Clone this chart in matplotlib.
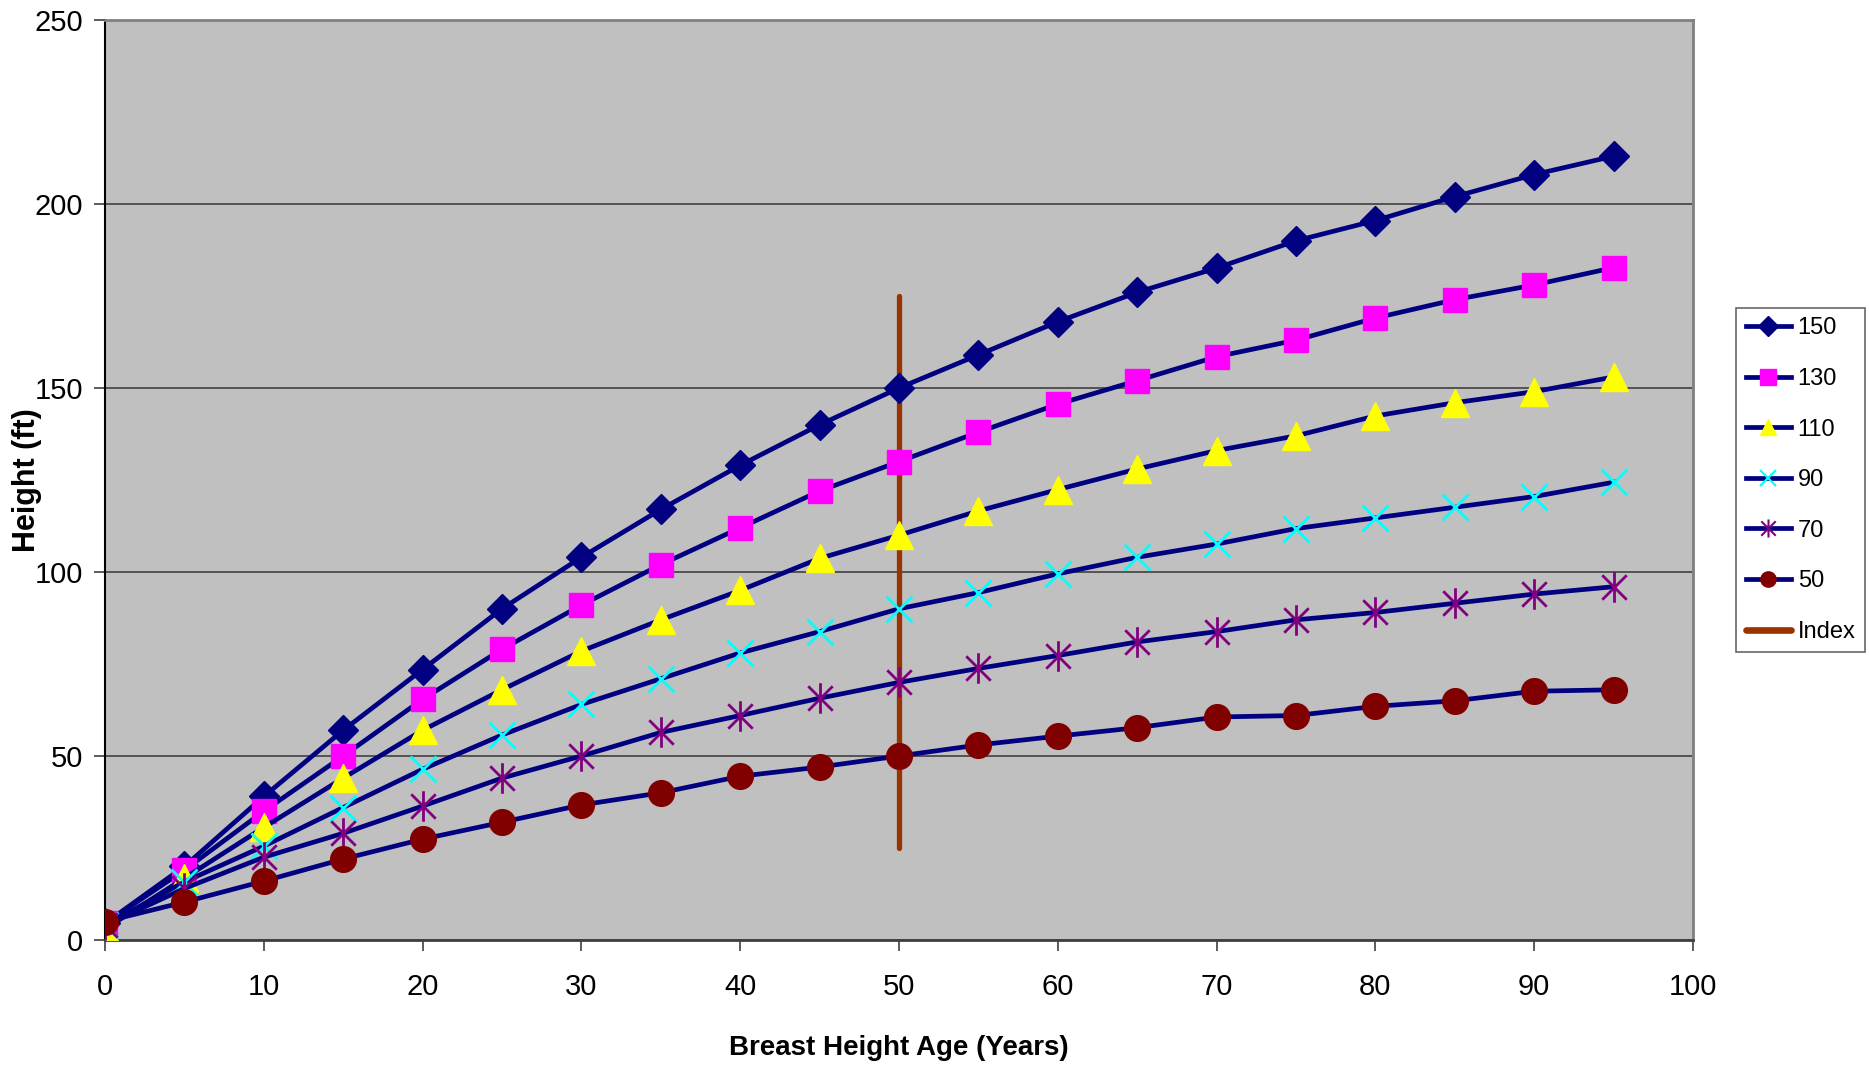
import matplotlib
matplotlib.use("Agg")
import matplotlib.pyplot as plt
from matplotlib.path import Path
from matplotlib.lines import Line2D

ages = [0, 5, 10, 15, 20, 25, 30, 35, 40, 45, 50, 55, 60, 65, 70, 75, 80, 85, 90, 95]
h150 = [4.5, 20, 39, 57, 73.5, 90, 104, 117, 129, 140, 150, 159, 168, 176, 182.6, 190, 195.5, 202, 208, 213]
h130 = [4.5, 19, 35, 50, 65.4, 79, 91, 102, 112, 122, 130, 138, 145.6, 152, 158.5, 163, 169, 174, 178, 182.7]
h110 = [3, 16.8, 30.6, 44, 57, 68, 78.5, 87, 95, 103.7, 110, 116.6, 122.4, 128, 133, 137, 142.4, 146, 149, 153]
h90 = [4, 15.8, 25.5, 36, 46.4, 55.7, 64, 71, 78, 83.8, 90, 94.4, 99.5, 104, 107.6, 111.8, 114.7, 117.6, 120.5, 124.4]
h70 = [4, 14, 22.5, 29, 36.4, 44, 50, 56.4, 61, 65.7, 70, 73.8, 77.3, 81, 83.8, 87, 89, 91.5, 94, 96]
h50 = [5, 10.3, 16, 22, 27.4, 32, 36.7, 40, 44.5, 47, 50, 53, 55.4, 57.7, 60.6, 61, 63.5, 65, 67.6, 68]
index_x = [50, 50]
index_y = [25, 175]
series_labels = ["150", "130", "110", "90", "70", "50"]
x_ticks = [0, 10, 20, 30, 40, 50, 60, 70, 80, 90, 100]
y_ticks = [0, 50, 100, 150, 200, 250]

plt.rcParams['font.family'] = ['Liberation Sans', 'DejaVu Sans']

# asterisk marker: X plus vertical bar
star = Path([(-1, -1), (1, 1), (-1, 1), (1, -1), (0, -1.25), (0, 1.25)],
            [Path.MOVETO, Path.LINETO, Path.MOVETO, Path.LINETO, Path.MOVETO, Path.LINETO])

navy = "#000080"
styles = [
    dict(marker="D", ms=15.5, mfc=navy, mec=navy, mew=1),
    dict(marker="s", ms=17, mfc="#FF00FF", mec="#FF00FF", mew=1),
    dict(marker="^", ms=20, mfc="#FFFF00", mec="#FFFF00", mew=1),
    dict(marker="x", ms=19, mfc="none", mec="#00FFFF", mew=2.0),
    dict(marker=star, ms=22, mfc="none", mec="#800080", mew=2.0),
    dict(marker="o", ms=18.5, mfc="#800000", mec="#800000", mew=1),
]
data = [h150, h130, h110, h90, h70, h50]

fig = plt.figure(figsize=(18.69, 10.67), dpi=100)
ax = fig.add_axes([105 / 1869, 1 - 940 / 1067, (1693 - 105) / 1869, (940 - 20) / 1067])
ax.set_facecolor("#C0C0C0")

ax.plot(index_x, index_y, color="#993300", lw=3.8, solid_capstyle="round", zorder=2)
for i, (ys, st) in enumerate(zip(data, styles)):
    ax.plot(ages, ys, color=navy, lw=3.4, zorder=3 + i, **st)

ax.set_xlim(0, 100)
ax.set_ylim(0, 250)
ax.set_xticks(x_ticks)
ax.set_yticks(y_ticks)
ax.yaxis.grid(True, color="#404040", lw=1.2)
ax.set_axisbelow(True)
for s in ["top", "right", "bottom"]:
    ax.spines[s].set_color("#808080")
    ax.spines[s].set_linewidth(2)
ax.spines["left"].set_color("black")
ax.spines["left"].set_linewidth(1.5)
ax.spines["bottom"].set_color("#404040")
ax.tick_params(axis="x", direction="out", length=8, width=1.2, color="#404040", pad=16, labelsize=21)
ax.tick_params(axis="y", direction="out", length=8, width=1.2, color="#404040", pad=8, labelsize=21)

ax.set_xlabel("Breast Height Age (Years)", fontsize=20, fontweight="bold", labelpad=24)
ax.set_ylabel("Height (ft)", fontsize=22, fontweight="bold")
ax.yaxis.set_label_coords(-0.0395, 0.5)

handles = []
small = [10, 11, 12, 12, 13, 11]
for st, sz in zip(styles, small):
    h = dict(st)
    h["ms"] = sz
    h["mew"] = 1.5 if h["mfc"] == "none" else 1
    handles.append(Line2D([], [], color=navy, lw=3.4, **h))
handles.append(Line2D([], [], color="#993300", lw=4.8, solid_capstyle="round"))
labels = series_labels + ["Index"]
leg = fig.legend(handles, labels, loc="center left", bbox_to_anchor=(0.929, 0.55),
                 fontsize=17, frameon=True, fancybox=False, edgecolor="#404040",
                 handlelength=1.9, labelspacing=1.21, handletextpad=0.3,
                 borderpad=0.4, borderaxespad=0)
leg.get_frame().set_linewidth(1.2)

fig.savefig("out.png", dpi=100)
